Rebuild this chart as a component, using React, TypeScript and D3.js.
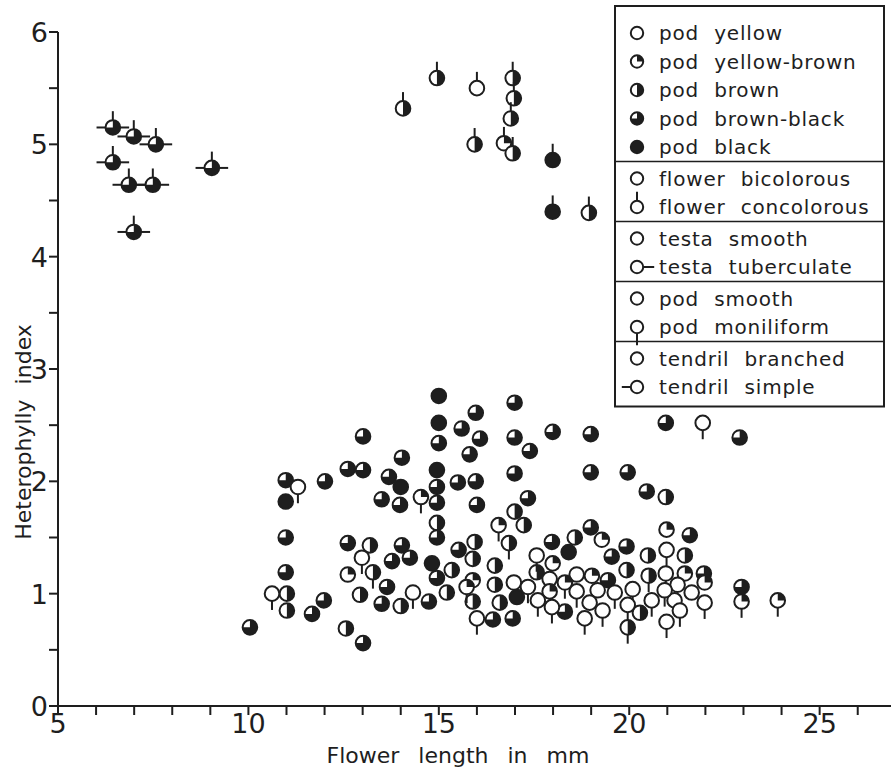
import React, { useRef, useEffect } from 'react';
import * as d3 from 'd3';

// pod colour codes: 0 yellow, 1 yellow-brown, 2 brown, 3 brown-black, 4 black
// [flower length (mm), heterophylly index, pod colour]

// concolorous flower + tuberculate testa + simple tendril
const tendrilSimpleGroup = [
  [6.44, 5.15, 3], [6.99, 5.07, 3], [7.57, 5.0, 3], [6.44, 4.84, 3],
  [6.86, 4.64, 3], [7.49, 4.64, 3], [9.04, 4.79, 3], [6.99, 4.22, 3],
];

// concolorous flower only
const concolorousGroup = [
  [14.06, 5.32, 2], [14.95, 5.59, 2], [16.0, 5.5, 0], [16.94, 5.59, 2],
  [16.97, 5.41, 2], [16.89, 5.23, 2], [15.94, 5.0, 2], [16.71, 5.01, 1],
  [16.94, 4.92, 2], [17.99, 4.86, 4], [17.99, 4.4, 4], [18.94, 4.39, 2],
];

// moniliform pods
const moniliformGroup = [
  [11.3, 1.95, 0], [14.53, 1.86, 1], [12.98, 1.32, 0], [13.27, 1.19, 2],
  [10.62, 1.0, 0], [14.32, 1.01, 0], [16.57, 1.61, 1], [16.84, 1.45, 2],
  [20.98, 1.39, 0], [17.57, 1.34, 0], [20.51, 1.16, 2], [20.96, 1.18, 0],
  [15.73, 1.06, 1], [17.34, 1.06, 0], [18.31, 1.1, 1], [18.62, 1.02, 0],
  [19.62, 1.01, 0], [20.09, 1.04, 0], [17.6, 0.94, 0], [17.97, 0.88, 0],
  [19.96, 0.9, 0], [20.93, 1.03, 0], [20.59, 0.94, 0], [21.98, 0.92, 0],
  [16.0, 0.78, 0], [18.83, 0.78, 0], [19.3, 0.85, 0], [21.33, 0.85, 0],
  [19.96, 0.7, 2], [20.98, 0.75, 0], [22.95, 0.93, 1], [23.9, 0.94, 1],
  [21.93, 2.52, 0],
];

// smooth pods, bicolorous flowers, no marks
const plainGroup = [
  [15.0, 2.76, 4], [15.0, 2.52, 4], [15.0, 2.34, 3], [13.01, 2.4, 3],
  [14.03, 2.21, 3], [12.61, 2.11, 3], [13.01, 2.1, 3], [14.95, 2.1, 4],
  [12.01, 2.0, 3], [10.98, 2.01, 3], [13.69, 2.04, 3], [14.0, 1.95, 4],
  [14.95, 1.95, 3], [10.98, 1.82, 4], [13.5, 1.84, 3], [13.98, 1.79, 3],
  [14.95, 1.81, 3], [14.95, 1.63, 2], [14.95, 1.5, 3], [10.98, 1.5, 3],
  [12.61, 1.45, 3], [13.19, 1.43, 2], [14.03, 1.43, 3], [13.77, 1.29, 3],
  [14.24, 1.32, 3], [14.82, 1.27, 4], [10.98, 1.19, 3], [12.61, 1.17, 1],
  [14.95, 1.14, 3], [15.34, 1.21, 2], [13.64, 1.06, 3], [11.01, 1.0, 2],
  [11.01, 0.85, 2], [11.98, 0.94, 3], [11.67, 0.82, 3], [10.04, 0.7, 3],
  [12.93, 0.99, 2], [13.5, 0.91, 3], [14.0, 0.89, 2], [14.74, 0.93, 3],
  [15.21, 1.01, 2], [12.56, 0.69, 2], [13.01, 0.56, 3],
  [16.99, 2.7, 3], [15.97, 2.61, 3], [15.6, 2.47, 3], [16.08, 2.38, 3],
  [16.99, 2.39, 3], [17.99, 2.44, 3], [18.99, 2.42, 3], [20.96, 2.52, 3],
  [15.81, 2.24, 3], [17.39, 2.27, 3], [16.99, 2.07, 3], [18.99, 2.08, 3],
  [19.96, 2.08, 3], [15.5, 1.99, 3], [15.97, 2.0, 3], [20.46, 1.91, 3],
  [20.96, 1.86, 2], [16.0, 1.79, 3], [17.34, 1.85, 3], [16.99, 1.73, 2],
  [17.23, 1.61, 2], [15.94, 1.46, 2], [15.52, 1.39, 3], [17.97, 1.46, 3],
  [18.57, 1.5, 2], [18.99, 1.59, 3], [19.28, 1.48, 1], [19.93, 1.42, 3],
  [20.98, 1.57, 1], [20.49, 1.34, 2], [18.41, 1.37, 4], [15.89, 1.31, 2],
  [16.47, 1.25, 2], [17.99, 1.27, 1], [19.54, 1.33, 3], [19.93, 1.21, 2],
  [17.57, 1.19, 2], [21.59, 1.52, 3], [22.9, 2.39, 3], [21.46, 1.34, 2],
  [21.96, 1.18, 3], [21.46, 1.18, 1], [21.98, 1.1, 1], [22.95, 1.06, 3],
  [18.62, 1.17, 0], [19.02, 1.16, 1], [19.44, 1.12, 3], [15.89, 1.12, 1],
  [16.47, 1.08, 2], [16.97, 1.1, 0], [17.91, 1.13, 0], [17.91, 1.02, 1],
  [19.17, 1.03, 0], [15.89, 0.93, 2], [16.6, 0.92, 2], [17.05, 0.97, 4],
  [18.31, 0.84, 3], [18.96, 0.92, 0], [21.27, 1.08, 0], [21.64, 1.01, 0],
  [21.19, 0.94, 0], [16.42, 0.77, 3], [16.94, 0.78, 3], [20.28, 0.83, 2],
];

const xTickLabels = [5, 10, 15, 20, 25];
const yTickLabels = [0, 1, 2, 3, 4, 5, 6];

// legend sections: [label, pod, marks]
const legendSections = [
  [['pod yellow', 0, ''], ['pod yellow-brown', 1, ''], ['pod brown', 2, ''], ['pod brown-black', 3, ''], ['pod black', 4, '']],
  [['flower bicolorous', 0, ''], ['flower concolorous', 0, 'u']],
  [['testa smooth', 0, ''], ['testa tuberculate', 0, 'r']],
  [['pod smooth', 0, ''], ['pod moniliform', 0, 'd']],
  [['tendril branched', 0, ''], ['tendril simple', 0, 'l']],
];

const FONT = 'DejaVu Sans, sans-serif';
const INK = '#1e1e1e';
const podAngle = [0, Math.PI / 2, Math.PI, 1.5 * Math.PI, 2 * Math.PI];

function drawGlyph(g, pod, marks, r, len) {
  const line = (x1, y1, x2, y2) => g.append('line')
    .attr('x1', x1).attr('y1', y1).attr('x2', x2).attr('y2', y2)
    .attr('stroke', INK).attr('stroke-width', 2);
  if (marks.includes('u')) line(0, -r, 0, -r - len);
  if (marks.includes('d')) line(0, r, 0, r + len);
  if (marks.includes('r')) line(r, 0, r + len, 0);
  if (marks.includes('l')) line(-r, 0, -r - len, 0);
  g.append('circle').attr('r', r).attr('fill', 'white');
  if (pod > 0) {
    g.append('path')
      .attr('d', d3.arc()({ innerRadius: 0, outerRadius: r, startAngle: 0, endAngle: podAngle[pod] }))
      .attr('fill', INK);
  }
  g.append('circle').attr('r', r).attr('fill', 'none').attr('stroke', INK).attr('stroke-width', 2);
}

const App = () => {
  const svgRef = useRef();
  const width = 891;
  const height = 767;

  useEffect(() => {
    const svg = d3.select(svgRef.current);
    svg.selectAll('*').remove();

    const x = d3.scaleLinear().domain([5, 26.9]).range([58, 892]);
    const y = d3.scaleLinear().domain([0, 6]).range([706, 32]);

    // axes
    const axes = svg.append('g').attr('stroke', INK).attr('stroke-width', 2);
    axes.append('line').attr('x1', x(5)).attr('x2', x(5)).attr('y1', y(0)).attr('y2', y(6));
    axes.append('line').attr('x1', x(5)).attr('x2', width).attr('y1', y(0)).attr('y2', y(0));
    axes.selectAll('.yt').data(d3.range(0, 6.01, 0.5)).join('line')
      .attr('x1', x(5) - 9).attr('x2', x(5)).attr('y1', d => y(d)).attr('y2', d => y(d));
    axes.selectAll('.xt').data(d3.range(5, 27, 1)).join('line')
      .attr('x1', d => x(d)).attr('x2', d => x(d)).attr('y1', y(0)).attr('y2', y(0) + 9);

    const text = svg.append('g').attr('font-family', FONT).attr('fill', INK);
    text.selectAll('.yl').data(yTickLabels).join('text')
      .attr('x', x(5) - 10).attr('y', d => y(d) + 10)
      .attr('text-anchor', 'end').attr('font-size', 27)
      .text(d => d);
    text.selectAll('.xl').data(xTickLabels).join('text')
      .attr('x', d => x(d)).attr('y', y(0) + 27)
      .attr('text-anchor', 'middle').attr('font-size', 27)
      .text(d => d);
    text.append('text')
      .attr('x', 458).attr('y', 763).attr('text-anchor', 'middle')
      .attr('font-size', 22).attr('word-spacing', 12)
      .text('Flower length in mm');
    text.append('text')
      .attr('transform', 'translate(31,432) rotate(-90)').attr('text-anchor', 'middle')
      .attr('font-size', 22).attr('word-spacing', 8)
      .text('Heterophylly index');

    // points
    const groups = [
      [plainGroup, ''],
      [moniliformGroup, 'd'],
      [concolorousGroup, 'u'],
      [tendrilSimpleGroup, 'ulr'],
    ];
    const pts = svg.append('g');
    groups.forEach(([data, marks]) => {
      data.forEach(d => {
        const g = pts.append('g').attr('transform', `translate(${x(d[0])},${y(d[1])})`);
        drawGlyph(g, d[2], marks, 7.3, 9);
      });
    });

    // legend
    const lg = svg.append('g');
    const boxL = 615, boxR = 884, top = 6;
    const rowH = 28.5;
    let cy = top;
    const dividers = [];
    legendSections.forEach((sec, si) => {
      const start = cy;
      sec.forEach((item, i) => {
        const ry = start + (si === 0 ? 27 : 17) + i * rowH;
        const [label, pod, marks] = item;
        const g = lg.append('g').attr('transform', `translate(637,${ry})`);
        drawGlyph(g, pod, marks, 6.2, marks === 'd' ? 12 : marks === 'r' ? 11 : 9);
        lg.append('text')
          .attr('x', 659).attr('y', ry + 7)
          .attr('font-family', FONT).attr('font-size', 20).attr('letter-spacing', 0.8)
          .attr('word-spacing', 8)
          .attr('fill', INK).text(label);
      });
      cy = start + (si === 0 ? 27 : 17) + (sec.length - 1) * rowH + 14.5;
      if (si < legendSections.length - 1) dividers.push(cy);
    });
    const bottom = cy + 5;
    lg.append('rect').attr('x', boxL).attr('y', top).attr('width', boxR - boxL).attr('height', bottom - top)
      .attr('fill', 'none').attr('stroke', INK).attr('stroke-width', 2);
    lg.selectAll('.div').data(dividers).join('line')
      .attr('x1', boxL).attr('x2', boxR).attr('y1', d => d).attr('y2', d => d)
      .attr('stroke', INK).attr('stroke-width', 1.5);
  }, []);

  return (
    <svg ref={svgRef} width={width} height={height}
      style={{ position: 'absolute', left: 0, top: 0, background: 'white' }} />
  );
};

export default App;
